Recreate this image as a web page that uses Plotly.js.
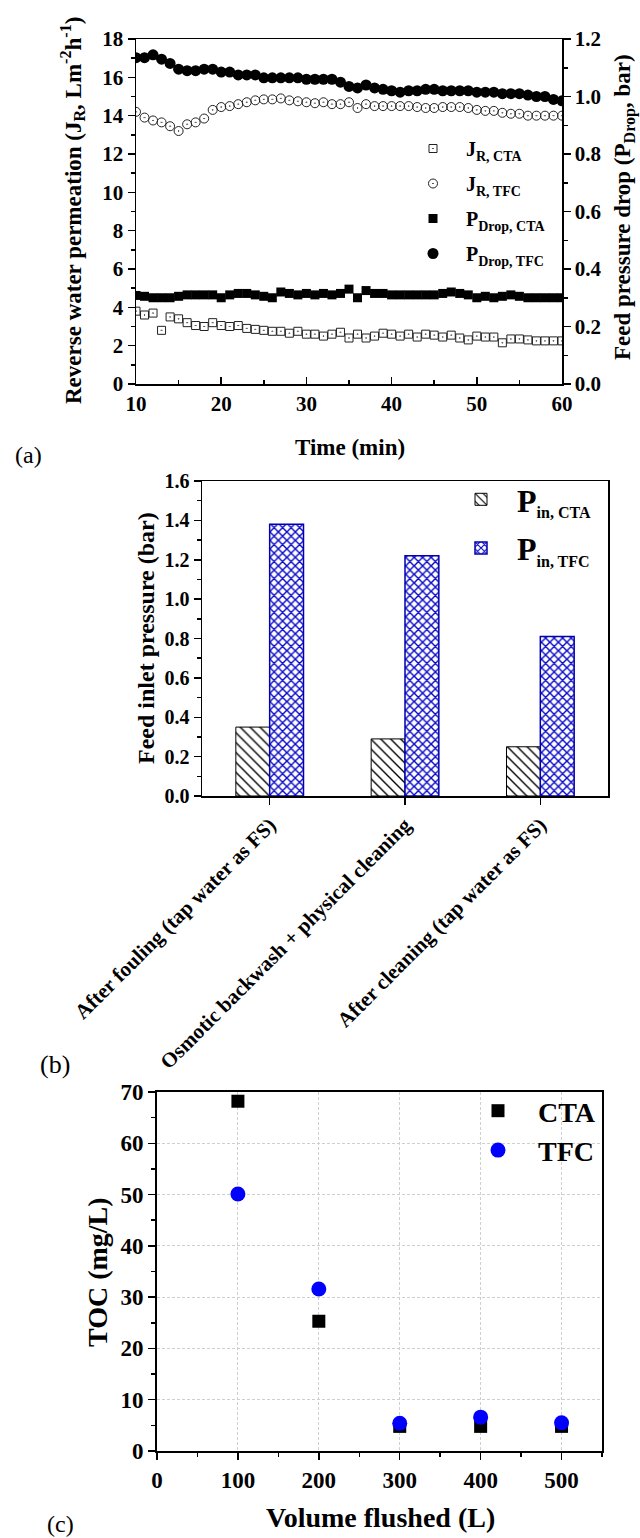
<!DOCTYPE html>
<html><head><meta charset="utf-8">
<script src="https://cdn.plot.ly/plotly-3.0.1.min.js"></script>
<style>html,body{margin:0;padding:0;background:#fff;} #chart{width:640px;height:1538px;}</style>
</head><body><div id="chart"></div>
<script>
// ---------- Panel (a) data ----------
const timeMin = [10,11,12,13,14,15,16,17,18,19,20,21,22,23,24,25,26,27,28,29,30,31,32,33,34,35,36,37,38,39,40,41,42,43,44,45,46,47,48,49,50,51,52,53,54,55,56,57,58,59,60];
const jrCTA = [3.8,3.6,3.7,2.8,3.5,3.4,3.2,3.05,3.0,3.2,3.05,3.0,3.05,2.9,2.85,2.8,2.75,2.75,2.65,2.75,2.6,2.6,2.5,2.6,2.7,2.4,2.6,2.4,2.5,2.65,2.6,2.5,2.6,2.45,2.6,2.55,2.45,2.55,2.4,2.3,2.5,2.45,2.45,2.15,2.35,2.35,2.3,2.25,2.25,2.25,2.25];
const jrTFC = [14.2,13.9,13.75,13.65,13.45,13.2,13.55,13.65,13.85,14.3,14.45,14.5,14.6,14.7,14.8,14.85,14.85,14.9,14.8,14.75,14.7,14.65,14.7,14.6,14.6,14.7,14.4,14.6,14.5,14.5,14.5,14.5,14.5,14.45,14.4,14.4,14.45,14.45,14.45,14.4,14.3,14.25,14.25,14.15,14.1,14.1,14.0,14.0,14.0,14.0,14.0];
const pdropCTA = [0.308,0.305,0.30,0.30,0.30,0.305,0.31,0.31,0.31,0.31,0.30,0.31,0.315,0.315,0.31,0.305,0.30,0.32,0.315,0.31,0.315,0.31,0.315,0.31,0.315,0.33,0.30,0.325,0.315,0.315,0.31,0.31,0.31,0.31,0.31,0.31,0.315,0.32,0.315,0.31,0.30,0.305,0.30,0.305,0.31,0.305,0.30,0.30,0.30,0.30,0.30];
const pdropTFC = [1.135,1.135,1.145,1.13,1.115,1.095,1.09,1.09,1.095,1.095,1.085,1.085,1.075,1.075,1.075,1.065,1.065,1.065,1.065,1.065,1.06,1.06,1.06,1.06,1.05,1.035,1.03,1.04,1.03,1.025,1.02,1.015,1.02,1.02,1.025,1.025,1.02,1.02,1.02,1.02,1.015,1.015,1.015,1.01,1.01,1.01,1.005,1.0,1.0,0.99,0.985];

// ---------- Panel (b) data ----------
const stages = ["After fouling (tap water as FS)", "Osmotic backwash + physical cleaning", "After cleaning (tap water as FS)"];
const pinCTA = [0.35, 0.29, 0.25];
const pinTFC = [1.38, 1.22, 0.81];

// ---------- Panel (c) data ----------
const volume = [100, 200, 300, 400, 500];
const tocCTA = [68.2, 25.3, 4.8, 4.8, 4.8];
const tocTFC = [50.1, 31.6, 5.4, 6.6, 5.5];

const SERIF = "Liberation Serif";
const W = 640, H = 1538;
const px = v => v / W;
const py = v => 1 - v / H;
const bold = s => ({family: SERIF, size: s, color: "#000", weight: "bold"});

const traces = [
  {type: "scatter", mode: "markers", x: timeMin, y: jrCTA, xaxis: "x", yaxis: "y", legend: "legend", legendgroup: "a1",
   name: "J<sub>R, CTA</sub>", marker: {symbol: "square-open-dot", size: 8, color: "#222", line: {width: 1, color: "#222"}}},
  {type: "scatter", mode: "markers", x: timeMin, y: jrTFC, xaxis: "x", yaxis: "y", legend: "legend", legendgroup: "a2",
   name: "J<sub>R, TFC</sub>", marker: {symbol: "circle-open-dot", size: 9, color: "#222", line: {width: 1, color: "#222"}}},
  {type: "scatter", mode: "markers", x: timeMin, y: pdropCTA, xaxis: "x", yaxis: "y2", legend: "legend", legendgroup: "a3",
   name: "P<sub>Drop, CTA</sub>", marker: {symbol: "square", size: 9, color: "#000"}},
  {type: "scatter", mode: "markers", x: timeMin, y: pdropTFC, xaxis: "x", yaxis: "y2", legend: "legend", legendgroup: "a4",
   name: "P<sub>Drop, TFC</sub>", marker: {symbol: "circle", size: 11, color: "#000"}},

  {type: "bar", x: stages, y: pinCTA, xaxis: "x2", yaxis: "y3", legend: "legend2", legendgroup: "b1",
   name: "P<sub><span style=\"font-size:16px\">in, CTA</span></sub>",
   marker: {color: "#fff", line: {color: "#000", width: 1},
            pattern: {shape: "\\", fgcolor: "#000", bgcolor: "#fff", size: 7, solidity: 0.2}}},
  {type: "bar", x: stages, y: pinTFC, xaxis: "x2", yaxis: "y3", legend: "legend2", legendgroup: "b2",
   name: "P<sub><span style=\"font-size:16px\">in, TFC</span></sub>",
   marker: {color: "#fff", line: {color: "#0000b0", width: 1.5},
            pattern: {shape: "x", fgcolor: "#0a0ac8", bgcolor: "#fff", size: 6, solidity: 0.42}}},

  {type: "scatter", mode: "markers", x: volume, y: tocCTA, xaxis: "x3", yaxis: "y4", legend: "legend3",
   name: "CTA", marker: {symbol: "square", size: 13, color: "#000"}},
  {type: "scatter", mode: "markers", x: volume, y: tocTFC, xaxis: "x3", yaxis: "y4", legend: "legend3",
   name: "TFC", marker: {symbol: "circle", size: 15, color: "#0000ff"}}
];

const axBase = {showline: true, linecolor: "#000", linewidth: 1.5, zeroline: false, showgrid: false,
                tickcolor: "#000", tickwidth: 1.5, ticklen: 7};

const ann = (x, y, text, font, angle) => ({xref: "paper", yref: "paper", x: px(x), y: py(y),
  xanchor: "center", yanchor: "middle", textangle: angle || 0, showarrow: false, text: text, font: font});

const layout = {
  width: W, height: H, margin: {l: 0, r: 0, t: 0, b: 0},
  paper_bgcolor: "#fff", plot_bgcolor: "#fff", showlegend: true,
  font: {family: SERIF, color: "#000"},
  barmode: "group", bargap: 0.5, bargroupgap: 0,

  xaxis: Object.assign({}, axBase, {domain: [px(136), px(562)], anchor: "y", range: [10, 60], dtick: 10,
    ticks: "inside", mirror: true, tickfont: bold(21),
    minor: {dtick: 5, ticks: "inside", ticklen: 4, tickcolor: "#000", tickwidth: 1.5}}),
  yaxis: Object.assign({}, axBase, {domain: [py(384), py(39)], anchor: "x", range: [0, 18], dtick: 2,
    ticks: "outside", tickfont: bold(21),
    minor: {dtick: 1, ticks: "outside", ticklen: 4, tickcolor: "#000", tickwidth: 1.5}}),
  yaxis2: Object.assign({}, axBase, {overlaying: "y", side: "right", anchor: "x", range: [0, 1.2], dtick: 0.2,
    tickformat: ".1f", ticks: "outside", tickfont: bold(21),
    minor: {dtick: 0.1, ticks: "outside", ticklen: 4, tickcolor: "#000", tickwidth: 1.5}}),

  xaxis2: Object.assign({}, axBase, {domain: [px(202), px(608)], anchor: "y3", type: "category",
    ticks: "outside", mirror: true, tickangle: -45, tickfont: bold(21)}),
  yaxis3: Object.assign({}, axBase, {domain: [py(796), py(481)], anchor: "x2", range: [0, 1.6], dtick: 0.2,
    tickformat: ".1f", ticks: "outside", mirror: true, tickfont: bold(20),
    minor: {dtick: 0.1, ticks: "outside", ticklen: 4, tickcolor: "#000", tickwidth: 1.5}}),

  xaxis3: Object.assign({}, axBase, {domain: [px(157), px(602)], anchor: "y4", range: [0, 550], dtick: 100,
    ticks: "outside", mirror: true, linewidth: 2, tickfont: bold(23),
    showgrid: true, gridcolor: "#cfcfcf", griddash: "3px,2px", gridwidth: 1,
    minor: {dtick: 50, ticks: "outside", ticklen: 4, tickcolor: "#000", tickwidth: 1.5, showgrid: false}}),
  yaxis4: Object.assign({}, axBase, {domain: [py(1451), py(1092)], anchor: "x3", range: [0, 70], dtick: 10,
    ticks: "outside", mirror: true, linewidth: 2, tickfont: bold(23),
    showgrid: true, gridcolor: "#cfcfcf", griddash: "3px,2px", gridwidth: 1,
    minor: {dtick: 5, ticks: "outside", ticklen: 4, tickcolor: "#000", tickwidth: 1.5, showgrid: false}}),

  legend: {x: px(400), y: py(129), xanchor: "left", yanchor: "top", bgcolor: "rgba(0,0,0,0)",
           font: bold(20), tracegroupgap: 6, itemwidth: 56},
  legend2: {x: px(445), y: py(472), xanchor: "left", yanchor: "top", bgcolor: "rgba(0,0,0,0)",
           font: bold(32), tracegroupgap: 4, itemwidth: 62},
  legend3: {x: px(458), y: py(1086), xanchor: "left", yanchor: "top", bgcolor: "rgba(0,0,0,0)",
           font: bold(28), itemwidth: 70},

  annotations: [
    ann(72, 211, "Reverse water permeation (J<sub>R</sub>, Lm<sup>-2</sup>h<sup>-1</sup>)", bold(23), -90),
    ann(625, 207, "Feed pressure drop (P<sub>Drop</sub>, bar)", bold(23), -90),
    ann(350, 448, "Time (min)", bold(23)),
    ann(28, 455, "(a)", {family: SERIF, size: 24, color: "#000"}),

    ann(146, 638, "Feed inlet pressure (bar)", bold(24), -90),
    ann(55, 1064, "(b)", {family: SERIF, size: 26, color: "#000"}),

    ann(97, 1272, "TOC (mg/L)", bold(28), -90),
    ann(380, 1517, "Volume flushed (L)", bold(28)),
    ann(60, 1524, "(c)", {family: SERIF, size: 24, color: "#000"})
  ]
};

Plotly.newPlot("chart", traces, layout, {displayModeBar: false, staticPlot: true});
</script>
</body></html>
